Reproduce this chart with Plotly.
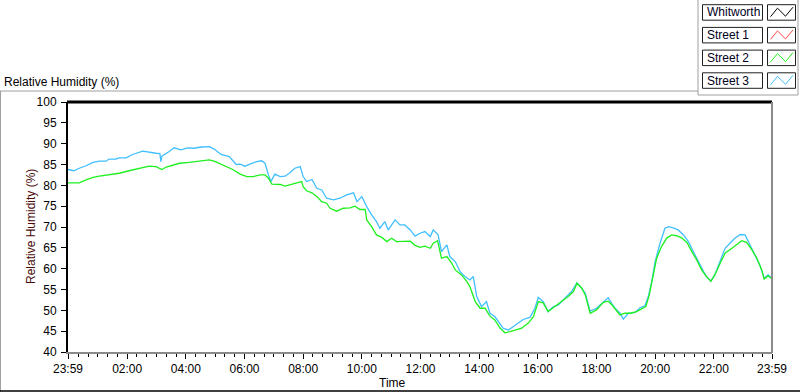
import plotly.graph_objects as go

# ---- data (minutes after midnight; start is 23:59 of previous day = -1) ----
street3_min = [-1, 11, 22, 36, 50, 63, 77, 83, 97, 103,
               118, 131, 152, 165, 179, 187, 189, 191, 196, 206,
               216, 230, 244, 257, 271, 288, 298, 312, 329, 343,
               351, 361, 371, 385, 395, 402, 409, 414, 422, 433,
               443, 453, 463, 474, 480, 487, 498, 508, 518, 528,
               542, 555, 569, 583, 590, 600, 610, 620, 630, 637,
               647, 654, 668, 678, 688, 699, 709, 719, 729, 740,
               746, 756, 763, 774, 780, 791, 801, 811, 821, 828,
               835, 845, 855, 862, 872, 883, 889, 900, 910, 920,
               930, 944, 954, 961, 971, 981, 992, 1002, 1016, 1029,
               1040, 1050, 1057, 1067, 1080, 1094, 1104, 1111, 1118, 1128,
               1135, 1145, 1159, 1169, 1179, 1186, 1193, 1200, 1210, 1220,
               1227, 1237, 1247, 1258, 1268, 1278, 1288, 1299, 1305, 1314,
               1322, 1333, 1343, 1353, 1363, 1374, 1384, 1394, 1404, 1414,
               1423, 1431, 1439]
street3_rh = [83.8, 83.5, 84.1, 84.7, 85.5, 85.8, 85.8, 86.3, 86.3, 86.6,
              86.6, 87.4, 88.2, 87.9, 87.7, 87.6, 85.7, 87.0, 87.3, 88.1,
              89.0, 88.5, 89.0, 88.9, 89.2, 89.3, 88.7, 87.4, 86.9, 85.0,
              85.1, 84.6, 85.1, 85.7, 85.9, 85.3, 82.5, 80.9, 82.7, 82.1,
              82.2, 83.0, 84.1, 84.5, 82.1, 80.9, 81.4, 79.3, 78.9, 76.9,
              76.5, 76.9, 77.7, 78.2, 76.1, 77.3, 74.9, 72.9, 71.3, 69.7,
              71.3, 69.3, 71.7, 70.5, 70.5, 69.3, 67.8, 68.5, 68.9, 67.7,
              69.3, 68.1, 64.1, 65.7, 62.9, 61.7, 59.3, 58.1, 57.3, 58.1,
              53.3, 50.9, 52.1, 49.3, 48.5, 46.5, 45.7, 45.3, 46.1, 46.9,
              47.8, 48.3, 50.5, 53.1, 52.1, 49.7, 50.9, 51.3, 52.9, 54.5,
              56.6, 55.3, 54.1, 49.8, 50.5, 51.9, 53.0, 51.7, 50.5, 49.3,
              47.9, 49.3, 49.5, 50.6, 51.1, 53.3, 56.9, 61.7, 66.1, 69.7,
              70.1, 69.8, 69.3, 68.1, 66.5, 64.1, 61.7, 59.3, 58.1, 57.0,
              58.5, 61.7, 64.9, 66.1, 67.3, 68.2, 68.1, 65.7, 63.3, 60.9,
              57.7, 58.5, 57.7]

street2_min = [-1, 22, 36, 50, 63, 84, 104, 124, 145, 165,
               179, 191, 200, 213, 227, 247, 268, 288, 298, 315,
               336, 351, 365, 378, 392, 402, 409, 416, 433, 443,
               453, 467, 477, 480, 487, 498, 508, 518, 528, 535,
               549, 562, 576, 586, 596, 607, 610, 620, 630, 641,
               651, 661, 671, 685, 699, 709, 719, 729, 740, 746,
               755, 763, 774, 784, 791, 804, 815, 821, 832, 842,
               852, 862, 872, 883, 893, 903, 913, 927, 941, 951,
               961, 971, 981, 995, 1009, 1022, 1033, 1040, 1050, 1057,
               1067, 1080, 1094, 1104, 1111, 1118, 1128, 1138, 1149, 1162,
               1173, 1181, 1188, 1196, 1203, 1213, 1224, 1234, 1244, 1254,
               1265, 1275, 1285, 1295, 1305, 1314, 1322, 1333, 1343, 1357,
               1367, 1377, 1387, 1398, 1408, 1418, 1423, 1431, 1439]
street2_rh = [80.6, 80.6, 81.3, 81.9, 82.2, 82.5, 82.9, 83.5, 84.1, 84.6,
              84.5, 83.8, 84.4, 84.9, 85.3, 85.5, 85.8, 86.1, 85.8, 84.9,
              83.8, 82.7, 82.1, 82.1, 82.5, 82.5, 81.7, 80.3, 80.2, 79.8,
              80.2, 80.6, 80.9, 79.7, 78.7, 78.2, 77.3, 76.1, 75.7, 74.5,
              73.8, 74.5, 74.6, 75.0, 74.2, 74.2, 71.7, 70.1, 68.1, 67.5,
              66.5, 67.3, 66.5, 66.5, 66.6, 65.6, 65.1, 65.4, 64.9, 66.1,
              66.7, 62.5, 62.9, 61.3, 59.7, 58.5, 56.9, 55.7, 52.1, 50.5,
              50.5, 48.6, 47.7, 45.7, 44.6, 44.9, 45.3, 45.7, 47.0, 48.5,
              52.1, 51.8, 49.7, 50.9, 52.1, 53.3, 54.5, 56.5, 55.3, 53.7,
              49.3, 50.1, 51.9, 52.2, 51.4, 50.3, 48.9, 49.3, 49.3, 49.7,
              50.5, 50.9, 53.7, 58.5, 62.5, 65.3, 67.4, 68.1, 67.9, 67.4,
              66.3, 64.1, 62.1, 59.7, 58.1, 57.0, 58.5, 61.3, 63.7, 64.9,
              65.8, 66.7, 66.3, 64.5, 62.5, 59.7, 57.5, 58.3, 57.5]

legend_names = ["Whitworth", "Street 1", "Street 2", "Street 3"]
legend_colors = ["#000000", "#ff4a4a", "#1ef01e", "#40bfff"]

x_tickvals = [-1, 120, 240, 360, 480, 600, 720, 840, 960, 1080, 1200, 1320, 1439]
x_ticktext = ["23:59", "02:00", "04:00", "06:00", "08:00", "10:00", "12:00",
              "14:00", "16:00", "18:00", "20:00", "22:00", "23:59"]

# ---- figure geometry (pixels) ----
W, H = 800, 392
L, R, T, B = 68, 772, 102, 352
FONT = "Liberation Sans"


def X(px):
    return (px - L) / (R - L)


def Y(py):
    return (B - py) / (B - T)


fig = go.Figure()
fig.add_trace(go.Scatter(x=street3_min, y=street3_rh, mode="lines", name="Street 3",
                         line=dict(color=legend_colors[3], width=1.3), showlegend=False))
fig.add_trace(go.Scatter(x=street2_min, y=street2_rh, mode="lines", name="Street 2",
                         line=dict(color=legend_colors[2], width=1.3), showlegend=False))

shapes = []
# plot frame
shapes.append(dict(type="line", xref="paper", yref="paper", x0=X(L - 1), x1=X(R), y0=Y(T), y1=Y(T),
                   line=dict(color="black", width=3)))
shapes.append(dict(type="line", xref="paper", yref="paper", x0=X(R), x1=X(R), y0=Y(T), y1=Y(B + 1),
                   line=dict(color="#8a8a8a", width=2)))
# outer panel lines
shapes.append(dict(type="line", xref="paper", yref="paper", x0=X(0), x1=X(698), y0=Y(91), y1=Y(91),
                   line=dict(color="#a0a0a0", width=1)))
shapes.append(dict(type="line", xref="paper", yref="paper", x0=X(0.5), x1=X(0.5), y0=Y(91), y1=Y(392),
                   line=dict(color="#a0a0a0", width=1)))
shapes.append(dict(type="line", xref="paper", yref="paper", x0=X(0), x1=X(800), y0=Y(391), y1=Y(391),
                   line=dict(color="black", width=1.5)))
# legend panel
shapes.append(dict(type="line", xref="paper", yref="paper", x0=X(698), x1=X(698), y0=Y(0), y1=Y(95),
                   line=dict(color="#a0a0a0", width=1)))
shapes.append(dict(type="line", xref="paper", yref="paper", x0=X(698), x1=X(798), y0=Y(95), y1=Y(95),
                   line=dict(color="#a0a0a0", width=1)))
shapes.append(dict(type="line", xref="paper", yref="paper", x0=X(798), x1=X(798), y0=Y(0), y1=Y(95),
                   line=dict(color="#a0a0a0", width=1)))

annotations = []
row_h = 15.5
for i, (name, col) in enumerate(zip(legend_names, legend_colors)):
    top = 4.7 + i * 22.7
    bot = top + row_h
    shapes.append(dict(type="rect", xref="paper", yref="paper", x0=X(702.5), x1=X(762.5),
                       y0=Y(bot), y1=Y(top), line=dict(color="#202020", width=1), fillcolor="white"))
    shapes.append(dict(type="rect", xref="paper", yref="paper", x0=X(767.5), x1=X(795.5),
                       y0=Y(bot), y1=Y(top), line=dict(color="#202020", width=1), fillcolor="white"))
    pts = [(770.5, top + 12), (777.5, top + 3.5), (785.5, top + 11.5), (793, top + 2.5)]
    path = "M " + " L ".join(f"{X(a):.5f},{Y(b):.5f}" for a, b in pts)
    shapes.append(dict(type="path", xref="paper", yref="paper", path=path,
                       line=dict(color=col, width=1)))
    annotations.append(dict(x=X(704.5), y=Y(top + row_h / 2), xref="paper", yref="paper",
                            text=name, showarrow=False, xanchor="left", yanchor="middle",
                            font=dict(family=FONT, size=12, color="#000020")))

annotations.append(dict(x=X(2), y=Y(82), xref="paper", yref="paper", text="Relative Humidity (%)",
                        showarrow=False, xanchor="left", yanchor="middle",
                        font=dict(family=FONT, size=12, color="black")))
annotations.append(dict(x=X(31), y=Y(227), xref="paper", yref="paper", text="Relative Humidity (%)",
                        showarrow=False, xanchor="center", yanchor="middle", textangle=-90,
                        font=dict(family=FONT, size=12, color="#4a0a0a")))
annotations.append(dict(x=X(392), y=Y(383), xref="paper", yref="paper", text="Time",
                        showarrow=False, xanchor="center", yanchor="middle",
                        font=dict(family=FONT, size=12, color="black")))

fig.update_layout(
    width=W, height=H, autosize=False,
    margin=dict(l=L, r=W - R, t=T, b=H - B, pad=0),
    paper_bgcolor="white", plot_bgcolor="white",
    showlegend=False,
    font=dict(family=FONT, size=12, color="black"),
    shapes=shapes, annotations=annotations,
    xaxis=dict(range=[-1, 1439], tickmode="array", tickvals=x_tickvals, ticktext=x_ticktext,
               showgrid=False, zeroline=False, showline=True, linecolor="#8a8a8a", linewidth=2,
               ticks="outside", ticklen=5, tickwidth=1, tickcolor="black",
               tickfont=dict(family=FONT, size=12, color="black"),
               minor=dict(ticks="outside", ticklen=3, tickwidth=1, tickcolor="black", dtick=20, tick0=0,
                          showgrid=False)),
    yaxis=dict(range=[40, 100], dtick=5, tick0=40, showgrid=False, zeroline=False,
               showline=True, linecolor="black", linewidth=2,
               ticks="outside", ticklen=5, tickwidth=1, tickcolor="black",
               ticklabelstandoff=2,
               tickfont=dict(family=FONT, size=12, color="black")),
)

fig.write_html("out.html", config={"displayModeBar": False},
               post_script="document.body.style.margin='0';document.body.style.overflow='hidden';")
